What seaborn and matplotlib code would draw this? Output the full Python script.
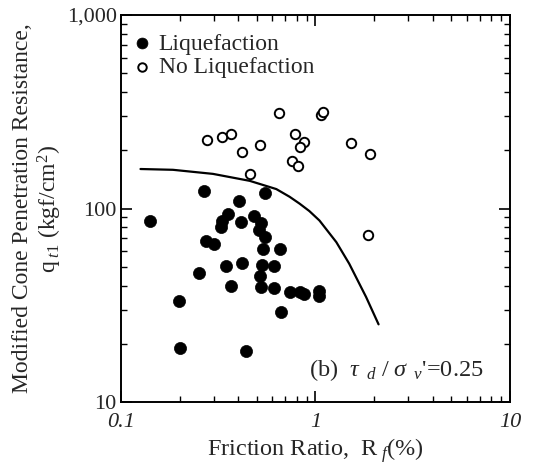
import numpy as np
import pandas as pd
import matplotlib
matplotlib.use("Agg")
import matplotlib.pyplot as plt
import seaborn as sns

# Liquefaction (filled)
liq_rf = [0.141, 0.267, 0.548, 0.404, 0.353, 0.332, 0.328, 0.414, 0.483, 0.524,
          0.512, 0.549, 0.273, 0.302, 0.537, 0.659, 0.348, 0.421, 0.533, 0.614,
          0.252, 0.516, 0.368, 0.524, 0.614, 0.736, 0.828, 0.868, 1.04, 1.048,
          0.199, 0.664, 0.202, 0.441]
liq_q = [86.4, 123, 120, 109, 93.9, 85.7, 80.1, 85.0, 92.0, 84.0,
         77.0, 71.5, 67.8, 65.2, 61.7, 61.7, 50.5, 52.3, 51.3, 50.3,
         46.4, 44.8, 39.6, 39.3, 38.8, 37.2, 36.9, 36.3, 37.5, 35.4,
         33.2, 29.1, 19.1, 18.3]

# No liquefaction (open)
noliq_rf = [0.277, 0.331, 0.370, 0.418, 0.518, 0.646, 0.459, 0.787, 0.871,
            0.834, 0.759, 0.809, 1.064, 1.09, 1.52, 1.91, 1.86]
noliq_q = [227, 233, 242, 196, 213, 312, 150, 244, 221,
           209, 175, 165, 305, 317, 219, 192, 72.6]

# Boundary curve
curve_rf = [0.126, 0.185, 0.297, 0.459, 0.629, 0.736, 0.828, 0.93, 1.048, 1.28, 1.49, 1.68, 1.82, 2.11]
curve_q = [160, 158.5, 151, 139, 126, 115, 106, 97, 86.7, 67, 51.9, 40.9, 34.9, 25.2]

x_ticks = [0.1, 1, 10]
x_ticklabels = ["0.1", "1", "10"]
y_ticks = [10, 100, 1000]
y_ticklabels = ["10", "100", "1,000"]

sns.set_style("ticks")
plt.rcParams["font.family"] = ["Liberation Serif", "DejaVu Serif"]
plt.rcParams["mathtext.fontset"] = "custom"
plt.rcParams["mathtext.rm"] = "Liberation Serif"
plt.rcParams["mathtext.it"] = "Liberation Serif:italic"

fig = plt.figure(figsize=(5.36, 4.66), dpi=100)
ax = fig.add_axes([0.2257, 0.1373, 0.7258, 0.8305])

df_l = pd.DataFrame({"rf": liq_rf, "q": liq_q})
df_n = pd.DataFrame({"rf": noliq_rf, "q": noliq_q})
df_c = pd.DataFrame({"rf": curve_rf, "q": curve_q})

sns.lineplot(data=df_c, x="rf", y="q", ax=ax, color="black", lw=1.6, sort=False,
             legend=False, zorder=1)
sns.scatterplot(data=df_l, x="rf", y="q", ax=ax, color="black", s=76,
                edgecolor="black", linewidth=0.5, label="Liquefaction", zorder=3)
sns.scatterplot(data=df_n, x="rf", y="q", ax=ax, facecolor="white", s=46,
                edgecolor="black", linewidth=1.4, label="No Liquefaction", zorder=3)

ax.set_xscale("log")
ax.set_yscale("log")
ax.set_xlim(0.1, 10)
ax.set_ylim(10, 1000)
ax.set_xticks(x_ticks)
ax.set_xticklabels(x_ticklabels, fontsize=16, style="italic")
ax.set_yticks(y_ticks)
ax.set_yticklabels(y_ticklabels, fontsize=16)
ax.tick_params(which="both", direction="in", top=True, right=True, color="black")
ax.tick_params(which="major", length=8, width=1.2, pad=3)
ax.tick_params(axis="x", which="major", pad=8)
ax.tick_params(which="minor", length=4, width=1.0)
for sp in ax.spines.values():
    sp.set_linewidth(1.4)
    sp.set_color("black")

ax.set_xlabel("Friction Ratio,  R$_{\\ f}$(%)", fontsize=17.5, labelpad=3)
ax.set_ylabel("Modified Cone Penetration Resistance,\nq$_{\\ t1}$ (kgf/cm$^{2}$)",
              fontsize=17, labelpad=2, linespacing=1.15)

ax.text(0.483, 0.083,
        "(b)  $\\it{\\tau}_{\\ \\ d}\\ /\\ \\it{\\sigma}_{\\ \\ v}$'=0.25",
        transform=ax.transAxes, fontsize=17.5, ha="left", va="center")

leg = ax.legend(loc="upper left", bbox_to_anchor=(0.0, 0.984), frameon=False,
                fontsize=17, handletextpad=0.3, handlelength=0.8,
                borderaxespad=0.2, borderpad=0.3, labelspacing=0.1,
                markerscale=0.9)

fig.savefig("out.png", dpi=100)
